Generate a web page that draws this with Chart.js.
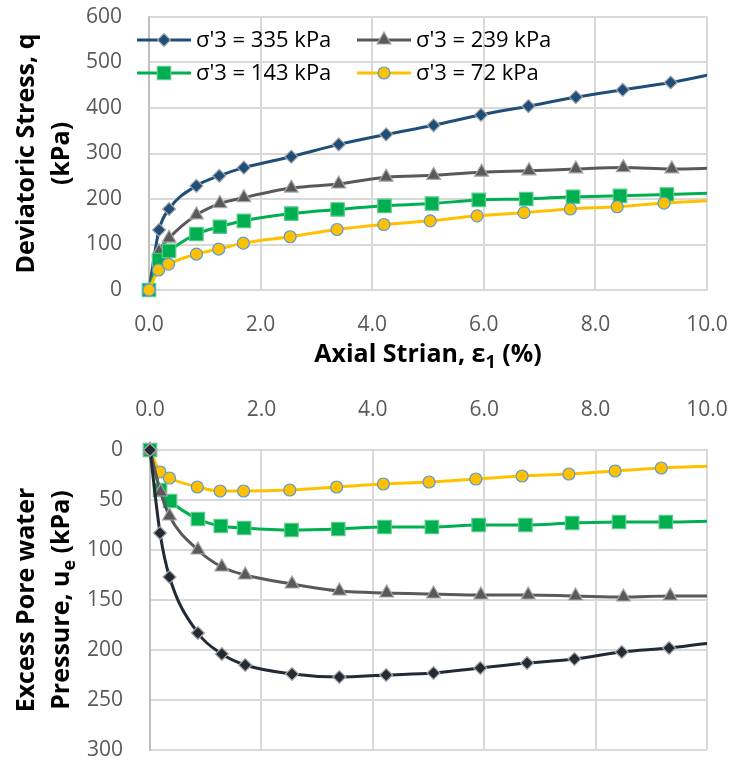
<!DOCTYPE html>
<html>
<head>
<meta charset="utf-8">
<script src="https://cdn.jsdelivr.net/npm/chart.js@4.4.1/dist/chart.umd.min.js"></script>
<style>
  body { margin: 0; background: #fff; overflow: hidden; }
  canvas { display: block; }
</style>
</head>
<body>
<canvas id="stress" width="732" height="380"></canvas>
<canvas id="pore" width="732" height="381"></canvas>
<script>
const FONT = "'Open Sans', 'DejaVu Sans', sans-serif";
const TICK_COLOR = '#595959';
const GRID_COLOR = '#d9d9d9';

const seriesLabels = ["σ'3 = 335 kPa", "σ'3 = 239 kPa", "σ'3 = 143 kPa", "σ'3 = 72 kPa"];

// top panel: deviatoric stress q (kPa) vs axial strain (%)
const strainQ335 = [0, 0.18, 0.36, 0.85, 1.26, 1.70, 2.55, 3.40, 4.25, 5.10, 5.95, 6.80, 7.65, 8.49, 9.35, 10.20];
const q335 = [0, 132, 178, 229, 251, 269, 293, 320, 342, 362, 385, 404, 424, 440, 456, 477];
const strainQ239 = [0, 0.18, 0.36, 0.85, 1.27, 1.70, 2.55, 3.40, 4.25, 5.10, 5.96, 6.81, 7.65, 8.50, 9.37, 10.20];
const q239 = [0, 84, 114, 165, 190, 203, 224, 233, 248, 252, 259, 262, 266, 269, 266, 268];
const strainQ143 = [0, 0.18, 0.36, 0.85, 1.27, 1.70, 2.55, 3.38, 4.22, 5.07, 5.91, 6.76, 7.60, 8.44, 9.28, 10.15];
const q143 = [0, 66, 86, 123, 139, 152, 168, 177, 185, 190, 198, 200, 205, 207, 210, 213];
const strainQ72 = [0, 0.17, 0.35, 0.85, 1.25, 1.69, 2.53, 3.37, 4.21, 5.04, 5.88, 6.72, 7.55, 8.39, 9.23, 10.15];
const q72 = [0, 44, 57, 79, 90, 103, 117, 133, 144, 152, 163, 170, 178, 183, 191, 197];

// bottom panel: excess pore water pressure ue (kPa) vs axial strain (%)
const strainU335 = [0, 0.18, 0.35, 0.86, 1.29, 1.71, 2.55, 3.40, 4.24, 5.09, 5.93, 6.77, 7.62, 8.47, 9.32, 10.20];
const u335 = [0, 83, 127, 183, 204, 215, 224, 227, 225, 223, 218, 213, 209, 202, 198, 192];
const strainU239 = [0, 0.19, 0.35, 0.86, 1.29, 1.71, 2.55, 3.40, 4.25, 5.09, 5.94, 6.79, 7.64, 8.50, 9.34, 10.20];
const u239 = [0, 42, 66, 100, 117, 125, 134, 141, 143, 144, 145, 145, 146, 147, 146, 146];
const strainU143 = [0, 0.18, 0.36, 0.86, 1.27, 1.69, 2.54, 3.38, 4.21, 5.06, 5.90, 6.74, 7.58, 8.42, 9.26, 10.15];
const u143 = [0, 40, 51, 69, 76, 78, 80, 79, 77, 77, 75, 75, 73, 72, 72, 71];
const strainU72 = [0, 0.18, 0.35, 0.85, 1.26, 1.68, 2.51, 3.35, 4.19, 5.01, 5.85, 6.68, 7.52, 8.35, 9.18, 10.15];
const u72 = [0, 22, 28, 37, 41, 41, 40, 37, 34, 32, 29, 26, 24, 21, 18, 16];

const markers = [
  { shape: 'rectRot', r: 6.5, edge: '#a6a6a6' },
  { shape: 'triangle', r: 8, edge: '#a6a6a6' },
  { shape: 'rect', r: 9.5, edge: '#5ccb8a' },
  { shape: 'circle', r: 6, edge: '#5b9bd5' }
];

function makeSet(label, xs, ys, m, color, order, clip) {
  return {
    label,
    data: xs.map((x, i) => ({ x, y: ys[i] })),
    borderColor: color,
    backgroundColor: color,
    borderWidth: 3,
    pointStyle: m.shape,
    pointRadius: m.r,
    pointHoverRadius: m.r,
    pointBackgroundColor: color,
    pointBorderColor: m.edge,
    pointBorderWidth: 1.2,
    cubicInterpolationMode: 'monotone',
    order,
    clip
  };
}

// text with an optional subscript part, centred on (x, y)
function richText(ctx, parts, x, y, rot, size) {
  const main = `bold ${size}px ${FONT}`;
  const sub = `bold ${Math.round(size * 0.7)}px ${FONT}`;
  ctx.save();
  ctx.translate(x, y);
  ctx.rotate(rot);
  ctx.textBaseline = 'middle';
  ctx.textAlign = 'left';
  ctx.fillStyle = '#000';
  let total = 0;
  parts.forEach(p => { ctx.font = p.sub ? sub : main; total += ctx.measureText(p.t).width; });
  let cx = -total / 2;
  parts.forEach(p => {
    ctx.font = p.sub ? sub : main;
    ctx.fillText(p.t, cx, p.sub ? size * 0.3 : 0);
    cx += ctx.measureText(p.t).width;
  });
  ctx.restore();
}

function gridOpts() {
  return { color: GRID_COLOR, lineWidth: 2, drawTicks: false };
}

const tickFont = { family: FONT, size: 21 };

const stressTitles = {
  id: 'stressTitles',
  afterDraw(chart) {
    const { ctx, chartArea: a } = chart;
    const midY = (a.top + a.bottom) / 2;
    richText(ctx, [{ t: 'Deviatoric Stress, q' }], 27, midY, -Math.PI / 2, 25);
    richText(ctx, [{ t: '(kPa)' }], 62, midY, -Math.PI / 2, 25);
    richText(ctx, [{ t: 'Axial Strian, ε' }, { t: '1', sub: true }, { t: ' (%)' }], (a.left + a.right) / 2, 355, 0, 25);

    // legend, two rows inside the plot
    const colors = chart.data.datasets.map(d => d.borderColor);
    const slots = [[137, 40], [357, 40], [137, 73], [357, 73]];
    chart.data.datasets.forEach((d, i) => {
      const [lx, ly] = slots[i];
      ctx.save();
      ctx.strokeStyle = d.borderColor;
      ctx.lineWidth = 3;
      ctx.beginPath();
      ctx.moveTo(lx, ly);
      ctx.lineTo(lx + 54, ly);
      ctx.stroke();
      ctx.fillStyle = d.pointBackgroundColor;
      ctx.strokeStyle = d.pointBorderColor;
      ctx.lineWidth = d.pointBorderWidth;
      Chart.helpers.drawPoint(ctx, { pointStyle: d.pointStyle, radius: d.pointRadius, borderWidth: d.pointBorderWidth, rotation: 0 }, lx + 27, ly);
      ctx.font = `22px ${FONT}`;
      ctx.fillStyle = '#000';
      ctx.textBaseline = 'middle';
      ctx.fillText(d.label, lx + 59, ly + 1);
      ctx.restore();
    });
  }
};

const poreTitles = {
  id: 'poreTitles',
  afterDraw(chart) {
    const { ctx, chartArea: a } = chart;
    const midY = (a.top + a.bottom) / 2;
    richText(ctx, [{ t: 'Excess Pore water' }], 27, midY, -Math.PI / 2, 25);
    richText(ctx, [{ t: 'Pressure, u' }, { t: 'e', sub: true }, { t: ' (kPa)' }], 62, midY, -Math.PI / 2, 25);
  }
};

const topClip = { left: 15, top: 0, right: 0, bottom: 15 };
const botClip = { left: 15, top: 15, right: 0, bottom: 0 };

new Chart(document.getElementById('stress'), {
  type: 'line',
  data: {
    datasets: [
      makeSet(seriesLabels[0], strainQ335, q335, markers[0], '#1f4e79', 3, topClip),
      makeSet(seriesLabels[1], strainQ239, q239, markers[1], '#595959', 2, topClip),
      makeSet(seriesLabels[2], strainQ143, q143, markers[2], '#00b050', 1, topClip),
      makeSet(seriesLabels[3], strainQ72, q72, markers[3], '#ffc000', 0, topClip)
    ]
  },
  plugins: [stressTitles],
  options: {
    responsive: false,
    animation: false,
    events: [],
    layout: { padding: { top: 17, right: 25, left: 0, bottom: 0 } },
    plugins: { legend: { display: false }, tooltip: { enabled: false } },
    scales: {
      x: {
        type: 'linear', min: 0, max: 10,
        grid: gridOpts(),
        border: { color: GRID_COLOR, width: 2 },
        ticks: { stepSize: 2, padding: 22, color: TICK_COLOR, font: tickFont, callback: v => v.toFixed(1) },
        afterFit(s) { s.height = 90; s.paddingLeft = 0; s.paddingRight = 0; }
      },
      y: {
        min: 0, max: 600,
        grid: gridOpts(),
        border: { color: '#bfbfbf', width: 2 },
        ticks: { stepSize: 100, padding: 27, color: TICK_COLOR, font: tickFont },
        afterFit(s) { s.width = 149; s.paddingTop = 0; s.paddingBottom = 0; }
      }
    }
  }
});

new Chart(document.getElementById('pore'), {
  type: 'line',
  data: {
    datasets: [
      makeSet(seriesLabels[0], strainU335, u335, markers[0], '#222a35', 0, botClip),
      makeSet(seriesLabels[1], strainU239, u239, markers[1], '#595959', 1, botClip),
      makeSet(seriesLabels[2], strainU143, u143, markers[2], '#00b050', 2, botClip),
      makeSet(seriesLabels[3], strainU72, u72, markers[3], '#ffc000', 3, botClip)
    ]
  },
  plugins: [poreTitles],
  options: {
    responsive: false,
    animation: false,
    events: [],
    layout: { padding: { top: 0, right: 25, left: 0, bottom: 11 } },
    plugins: { legend: { display: false }, tooltip: { enabled: false } },
    scales: {
      x: {
        type: 'linear', position: 'top', min: 0, max: 10,
        grid: gridOpts(),
        border: { color: GRID_COLOR, width: 2 },
        ticks: { stepSize: 2, padding: 27, color: TICK_COLOR, font: tickFont, callback: v => v.toFixed(1) },
        afterFit(s) { s.height = 70; s.paddingLeft = 0; s.paddingRight = 0; }
      },
      y: {
        reverse: true, min: 0, max: 300,
        grid: gridOpts(),
        border: { color: '#bfbfbf', width: 2 },
        ticks: { stepSize: 50, padding: 27, color: TICK_COLOR, font: tickFont },
        afterFit(s) { s.width = 150; s.paddingTop = 0; s.paddingBottom = 0; }
      }
    }
  }
});
</script>
</body>
</html>
